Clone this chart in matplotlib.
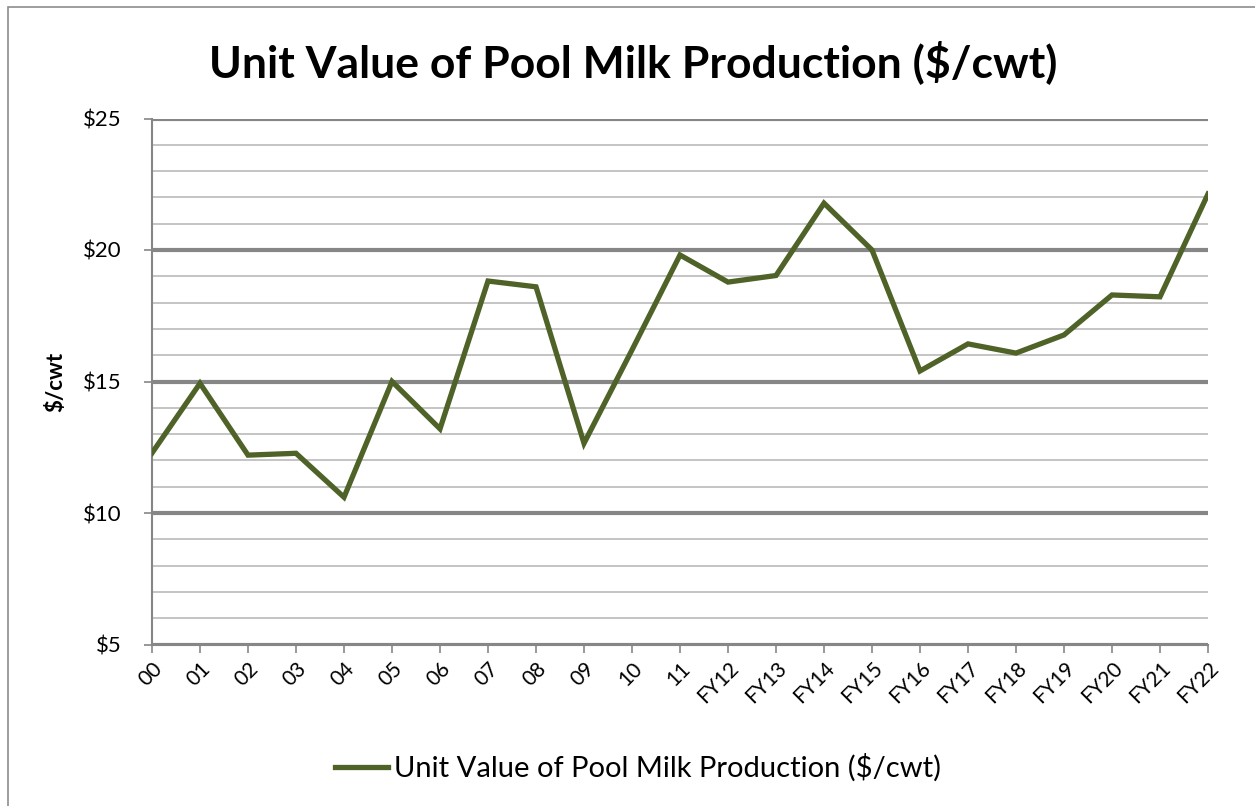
import matplotlib

matplotlib.use("Agg")
import matplotlib.pyplot as plt
from matplotlib.patches import Rectangle
from matplotlib.ticker import MultipleLocator, FuncFormatter

years = ["00", "01", "02", "03", "04", "05", "06", "07", "08", "09", "10", "11",
         "FY12", "FY13", "FY14", "FY15", "FY16", "FY17", "FY18", "FY19", "FY20", "FY21", "FY22"]
unit_value = [12.28, 14.93, 12.20, 12.27, 10.60, 15.00, 13.20, 18.82, 18.60, 12.65, 16.20, 19.81,
              18.78, 19.03, 21.78, 20.00, 15.40, 16.43, 16.08, 16.77, 18.29, 18.22, 22.13]
series_label = "Unit Value of Pool Milk Production ($/cwt)"

plt.rcParams["font.family"] = ["Lato", "DejaVu Sans"]

W, H = 1255, 806
fig = plt.figure(figsize=(W / 100, H / 100), dpi=100)
ax = fig.add_axes([152 / W, 1 - 644.5 / H, (1208 - 152) / W, (644.5 - 118.5) / H])

# outer chart border (right/bottom cut off in reference)
fig.patches.append(Rectangle((8 / W, -0.05), 1.1, 1 - 7 / H + 0.05, transform=fig.transFigure,
                             fill=False, edgecolor="#8c8c8c", linewidth=1.2))

x = list(range(len(years)))
ax.plot(x, unit_value, color="#4f6228", linewidth=3.8, solid_joinstyle="miter",
        label=series_label, zorder=5)

ax.set_xlim(0, len(years) - 1)
ax.set_ylim(5, 25)
ax.yaxis.set_major_locator(MultipleLocator(5))
ax.yaxis.set_minor_locator(MultipleLocator(1))
ax.yaxis.set_major_formatter(FuncFormatter(lambda v, _: f"${v:.0f}"))
ax.grid(True, which="minor", axis="y", color="#c4c4c4", linewidth=1.4)
ax.grid(True, which="major", axis="y", color="#868686", linewidth=3.0)
ax.set_axisbelow(True)

ax.set_xticks(x)
ax.set_xticklabels(years, rotation=45, ha="right", va="top", rotation_mode="anchor", fontsize=15)
ax.tick_params(axis="x", length=6, width=1.2, color="#868686", pad=4)
ax.tick_params(axis="y", which="major", length=6, width=1.2, color="#868686", labelsize=16, pad=16)
ax.tick_params(axis="y", which="minor", length=0)

for side in ["top", "right"]:
    ax.spines[side].set_visible(False)
for side in ["left", "bottom"]:
    ax.spines[side].set_color("#868686")
    ax.spines[side].set_linewidth(1.5)

ax.set_ylabel("$/cwt", fontsize=16, fontweight="bold")
ax.yaxis.set_label_coords(-86 / (1208 - 152), 0.5)

fig.text(633 / W, 1 - 62 / H, "Unit Value of Pool Milk Production ($/cwt)", ha="center", va="center",
         fontsize=32, fontweight="bold")

fig.legend(loc="center", bbox_to_anchor=(638 / W, 1 - 768 / H), frameon=False, fontsize=21,
           handlelength=1.8, handletextpad=0.2)

fig.savefig("out.png", dpi=100)
